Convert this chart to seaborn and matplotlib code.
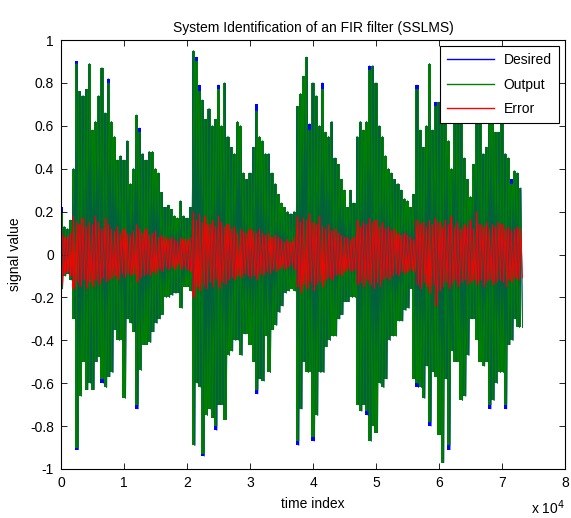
import numpy as np
import pandas as pd
import matplotlib
matplotlib.use("Agg")
import matplotlib.pyplot as plt
import seaborn as sns

# ---- data (peak values per 500-sample bin) ----
step = 500
output_upper = [
    0.20, 0.13, 0.12, 0.16, 0.40, 0.89, 0.76, 0.74, 0.77, 0.89,
    0.58, 0.62, 0.74, 0.87, 0.66, 0.80, 0.62, 0.55, 0.44, 0.46,
    0.44, 0.53, 0.33, 0.40, 0.65, 0.57, 0.47, 0.44, 0.48, 0.48,
    0.40, 0.38, 0.29, 0.22, 0.23, 0.21, 0.18, 0.17, 0.25, 0.18,
    0.17, 0.22, 0.95, 0.90, 0.76, 0.72, 0.63, 0.68, 0.60, 0.63,
    0.77, 0.60, 0.80, 0.55, 0.50, 0.47, 0.62, 0.60, 0.38, 0.35,
    0.38, 0.50, 0.67, 0.55, 0.53, 0.47, 0.47, 0.38, 0.33, 0.28,
    0.24, 0.22, 0.20, 0.19, 0.20, 0.69, 0.75, 0.83, 0.92, 0.58,
    0.80, 0.74, 0.60, 0.77, 0.57, 0.55, 0.62, 0.45, 0.42, 0.35,
    0.30, 0.22, 0.30, 0.24, 0.55, 0.62, 0.58, 0.62, 0.86, 0.88,
    0.80, 0.60, 0.55, 0.46, 0.40, 0.38, 0.35, 0.33, 0.30, 0.26,
    0.25, 0.22, 0.28, 0.77, 0.58, 0.50, 0.60, 0.89, 0.58, 0.69,
    0.71, 0.75, 0.70, 0.53, 0.40, 0.70, 0.72, 0.65, 0.45, 0.35,
    0.27, 0.42, 0.62, 0.65, 0.47, 0.50, 0.70, 0.68, 0.57, 0.57,
    0.62, 0.47, 0.45, 0.33, 0.39, 0.38, 0.31,
]
output_lower = [
    -0.16, -0.10, -0.09, -0.12, -0.30, -0.90, -0.66, -0.50, -0.63, -0.60,
    -0.63, -0.50, -0.48, -0.58, -0.62, -0.57, -0.55, -0.35, -0.40, -0.40,
    -0.67, -0.30, -0.32, -0.36, -0.70, -0.54, -0.42, -0.42, -0.41, -0.36,
    -0.32, -0.30, -0.28, -0.20, -0.20, -0.19, -0.18, -0.18, -0.25, -0.15,
    -0.15, -0.17, -0.89, -0.60, -0.62, -0.93, -0.75, -0.72, -0.76, -0.80,
    -0.70, -0.70, -0.77, -0.47, -0.45, -0.40, -0.40, -0.47, -0.37, -0.37,
    -0.42, -0.50, -0.63, -0.58, -0.59, -0.38, -0.55, -0.35, -0.33, -0.27,
    -0.24, -0.18, -0.17, -0.16, -0.17, -0.87, -0.72, -0.50, -0.55, -0.55,
    -0.85, -0.75, -0.55, -0.55, -0.43, -0.40, -0.38, -0.38, -0.30, -0.28,
    -0.22, -0.22, -0.20, -0.20, -0.70, -0.73, -0.70, -0.73, -0.87, -0.80,
    -0.83, -0.60, -0.62, -0.58, -0.40, -0.38, -0.38, -0.31, -0.31, -0.26,
    -0.25, -0.16, -0.58, -0.60, -0.62, -0.67, -0.52, -0.78, -0.55, -0.57,
    -0.84, -0.97, -0.58, -0.89, -0.45, -0.50, -0.50, -0.68, -0.66, -0.47,
    -0.30, -0.30, -0.40, -0.50, -0.52, -0.50, -0.70, -0.68, -0.60, -0.55,
    -0.55, -0.70, -0.42, -0.40, -0.30, -0.34, -0.34,
]
desired_upper = [
    0.22, 0.13, 0.12, 0.16, 0.40, 0.90, 0.76, 0.74, 0.77, 0.89,
    0.58, 0.62, 0.74, 0.87, 0.66, 0.82, 0.62, 0.55, 0.44, 0.46,
    0.44, 0.53, 0.33, 0.40, 0.65, 0.59, 0.47, 0.44, 0.48, 0.48,
    0.40, 0.38, 0.29, 0.22, 0.23, 0.21, 0.18, 0.17, 0.25, 0.18,
    0.17, 0.22, 0.95, 0.92, 0.79, 0.72, 0.63, 0.68, 0.60, 0.63,
    0.79, 0.60, 0.80, 0.55, 0.50, 0.47, 0.62, 0.60, 0.38, 0.35,
    0.38, 0.50, 0.70, 0.55, 0.53, 0.47, 0.47, 0.38, 0.33, 0.28,
    0.24, 0.22, 0.20, 0.19, 0.20, 0.69, 0.75, 0.83, 0.92, 0.61,
    0.80, 0.74, 0.60, 0.80, 0.57, 0.55, 0.62, 0.45, 0.42, 0.35,
    0.30, 0.22, 0.30, 0.24, 0.55, 0.62, 0.58, 0.62, 0.88, 0.88,
    0.80, 0.60, 0.55, 0.46, 0.40, 0.38, 0.35, 0.33, 0.30, 0.26,
    0.25, 0.22, 0.28, 0.79, 0.58, 0.50, 0.60, 0.89, 0.58, 0.71,
    0.71, 0.75, 0.70, 0.53, 0.40, 0.70, 0.72, 0.65, 0.45, 0.35,
    0.27, 0.42, 0.62, 0.65, 0.47, 0.50, 0.72, 0.68, 0.57, 0.57,
    0.62, 0.47, 0.45, 0.35, 0.39, 0.38, 0.31,
]
desired_lower = [
    -0.16, -0.10, -0.09, -0.12, -0.30, -0.91, -0.66, -0.50, -0.63, -0.60,
    -0.63, -0.50, -0.48, -0.60, -0.62, -0.57, -0.55, -0.35, -0.40, -0.40,
    -0.67, -0.30, -0.32, -0.36, -0.72, -0.54, -0.42, -0.42, -0.41, -0.36,
    -0.32, -0.30, -0.28, -0.20, -0.20, -0.19, -0.18, -0.18, -0.25, -0.15,
    -0.15, -0.17, -0.89, -0.60, -0.62, -0.94, -0.75, -0.72, -0.76, -0.82,
    -0.70, -0.70, -0.77, -0.47, -0.45, -0.40, -0.40, -0.47, -0.37, -0.37,
    -0.42, -0.50, -0.65, -0.58, -0.59, -0.38, -0.55, -0.35, -0.33, -0.27,
    -0.24, -0.18, -0.17, -0.16, -0.17, -0.89, -0.72, -0.50, -0.55, -0.55,
    -0.87, -0.75, -0.55, -0.55, -0.43, -0.40, -0.38, -0.38, -0.30, -0.28,
    -0.22, -0.22, -0.20, -0.20, -0.70, -0.73, -0.70, -0.75, -0.87, -0.80,
    -0.83, -0.60, -0.62, -0.58, -0.40, -0.38, -0.38, -0.31, -0.31, -0.26,
    -0.25, -0.16, -0.58, -0.62, -0.62, -0.67, -0.52, -0.80, -0.55, -0.57,
    -0.84, -0.97, -0.58, -0.91, -0.45, -0.50, -0.50, -0.68, -0.66, -0.47,
    -0.30, -0.30, -0.40, -0.50, -0.52, -0.50, -0.72, -0.68, -0.60, -0.55,
    -0.55, -0.72, -0.42, -0.40, -0.30, -0.34, -0.34,
]
error_upper = [
    0.10, 0.08, 0.08, 0.10, 0.18, 0.15, 0.14, 0.17, 0.13, 0.15,
    0.14, 0.18, 0.15, 0.12, 0.17, 0.14, 0.12, 0.11, 0.13, 0.10,
    0.12, 0.10, 0.09, 0.11, 0.14, 0.12, 0.10, 0.12, 0.09, 0.10,
    0.11, 0.08, 0.09, 0.08, 0.07, 0.08, 0.07, 0.06, 0.08, 0.07,
    0.07, 0.08, 0.20, 0.16, 0.19, 0.15, 0.18, 0.14, 0.16, 0.13,
    0.18, 0.15, 0.13, 0.14, 0.12, 0.13, 0.10, 0.12, 0.11, 0.10,
    0.12, 0.11, 0.10, 0.12, 0.10, 0.09, 0.10, 0.08, 0.09, 0.08,
    0.07, 0.06, 0.07, 0.06, 0.08, 0.18, 0.15, 0.17, 0.16, 0.19,
    0.15, 0.14, 0.18, 0.13, 0.12, 0.14, 0.11, 0.12, 0.10, 0.09,
    0.08, 0.08, 0.07, 0.08, 0.16, 0.13, 0.15, 0.14, 0.17, 0.15,
    0.16, 0.13, 0.15, 0.12, 0.13, 0.11, 0.12, 0.10, 0.09, 0.10,
    0.09, 0.08, 0.07, 0.16, 0.14, 0.15, 0.13, 0.16, 0.14, 0.17,
    0.15, 0.13, 0.16, 0.14, 0.18, 0.13, 0.15, 0.12, 0.14, 0.13,
    0.16, 0.12, 0.20, 0.14, 0.13, 0.15, 0.12, 0.14, 0.13, 0.15,
    0.14, 0.12, 0.13, 0.11, 0.12, 0.13, 0.12,
]
error_lower = [
    -0.14, -0.09, -0.08, -0.10, -0.16, -0.13, -0.15, -0.12, -0.16, -0.13,
    -0.15, -0.12, -0.14, -0.11, -0.13, -0.12, -0.11, -0.10, -0.12, -0.09,
    -0.11, -0.09, -0.10, -0.09, -0.13, -0.11, -0.10, -0.09, -0.10, -0.08,
    -0.09, -0.07, -0.08, -0.06, -0.07, -0.06, -0.07, -0.05, -0.07, -0.06,
    -0.07, -0.08, -0.20, -0.15, -0.17, -0.14, -0.16, -0.13, -0.15, -0.12,
    -0.16, -0.13, -0.14, -0.12, -0.11, -0.12, -0.10, -0.11, -0.09, -0.10,
    -0.11, -0.10, -0.12, -0.09, -0.10, -0.08, -0.09, -0.07, -0.08, -0.07,
    -0.06, -0.07, -0.06, -0.05, -0.07, -0.15, -0.18, -0.14, -0.16, -0.13,
    -0.17, -0.14, -0.13, -0.15, -0.12, -0.11, -0.12, -0.10, -0.09, -0.10,
    -0.08, -0.07, -0.08, -0.07, -0.14, -0.13, -0.15, -0.12, -0.14, -0.16,
    -0.13, -0.15, -0.12, -0.11, -0.12, -0.10, -0.09, -0.10, -0.08, -0.09,
    -0.08, -0.07, -0.08, -0.14, -0.16, -0.13, -0.15, -0.18, -0.14, -0.24,
    -0.17, -0.15, -0.13, -0.16, -0.14, -0.12, -0.15, -0.13, -0.12, -0.14,
    -0.13, -0.12, -0.14, -0.12, -0.15, -0.13, -0.12, -0.14, -0.13, -0.12,
    -0.13, -0.15, -0.12, -0.13, -0.11, -0.12, -0.11,
]
series_names = ["Desired", "Output", "Error"]
series_colors = ["#0000ff", "#008000", "#ff0000"]
x_ticks = [0, 10000, 20000, 30000, 40000, 50000, 60000, 70000, 80000]
x_ticklabels = ["0", "1", "2", "3", "4", "5", "6", "7", "8"]
y_ticks = [-1, -0.8, -0.6, -0.4, -0.2, 0, 0.2, 0.4, 0.6, 0.8, 1]
y_ticklabels = ["-1", "-0.8", "-0.6", "-0.4", "-0.2", "0", "0.2", "0.4", "0.6", "0.8", "1"]

envelopes = {
    "Desired": (desired_upper, desired_lower),
    "Output": (output_upper, output_lower),
    "Error": (error_upper, error_lower),
}


def zigzag(name, upper, lower):
    n = len(upper)
    idx = np.arange(n) * step
    t = np.empty(2 * n)
    v = np.empty(2 * n)
    t[0::2] = idx
    t[1::2] = idx + step / 2
    v[0::2] = upper
    v[1::2] = lower
    return pd.DataFrame({"time": t, "value": v, "series": name})


plt.rcParams["font.family"] = ["Liberation Sans", "DejaVu Sans"]

fig = plt.figure(figsize=(5.71, 5.18), dpi=100)
ax = fig.add_axes([61 / 571, 1 - 469 / 518, 504 / 571, 429 / 518])

for name, color in zip(series_names, series_colors):
    up, lo = envelopes[name]
    grid = np.arange(len(up)) * step
    # dense signal body: every bin spans from its trough to its peak
    ax.fill_between(grid, lo, up, step="mid", color=color, linewidth=0)
    sns.lineplot(data=zigzag(name, up, lo), x="time", y="value",
                 color=color, estimator=None, sort=False, linewidth=0.6,
                 ax=ax, legend=False)

ax.set_xlim(0, 80000)
ax.set_ylim(-1, 1)
ax.set_xticks(x_ticks)
ax.set_xticklabels(x_ticklabels)
ax.set_yticks(y_ticks)
ax.set_yticklabels(y_ticklabels)
ax.tick_params(direction="in", top=True, right=True, length=4, width=0.6,
               labelsize=10, pad=5)
for s in ax.spines.values():
    s.set_linewidth(0.8)
    s.set_color("black")

ax.set_title("System Identification of an FIR filter (SSLMS)", fontsize=10, pad=6)
ax.set_xlabel("time index", fontsize=10, labelpad=5)
ax.set_ylabel("signal value", fontsize=10, labelpad=6)
fig.text(565 / 571, 1 - 498 / 518, r"x 10$^{4}$", ha="right", va="top",
         fontsize=10)

from matplotlib.lines import Line2D
handles = [Line2D([], [], color=c, lw=1.0) for c in series_colors]
leg = ax.legend(handles, series_names, loc="upper right", fontsize=10,
                frameon=True, fancybox=False, framealpha=1, edgecolor="black",
                borderaxespad=0.45, handlelength=3.4, labelspacing=0.75,
                borderpad=0.5, handletextpad=0.7)
leg.get_frame().set_linewidth(0.8)
leg.set_zorder(10)

fig.savefig("out.png", dpi=100)
